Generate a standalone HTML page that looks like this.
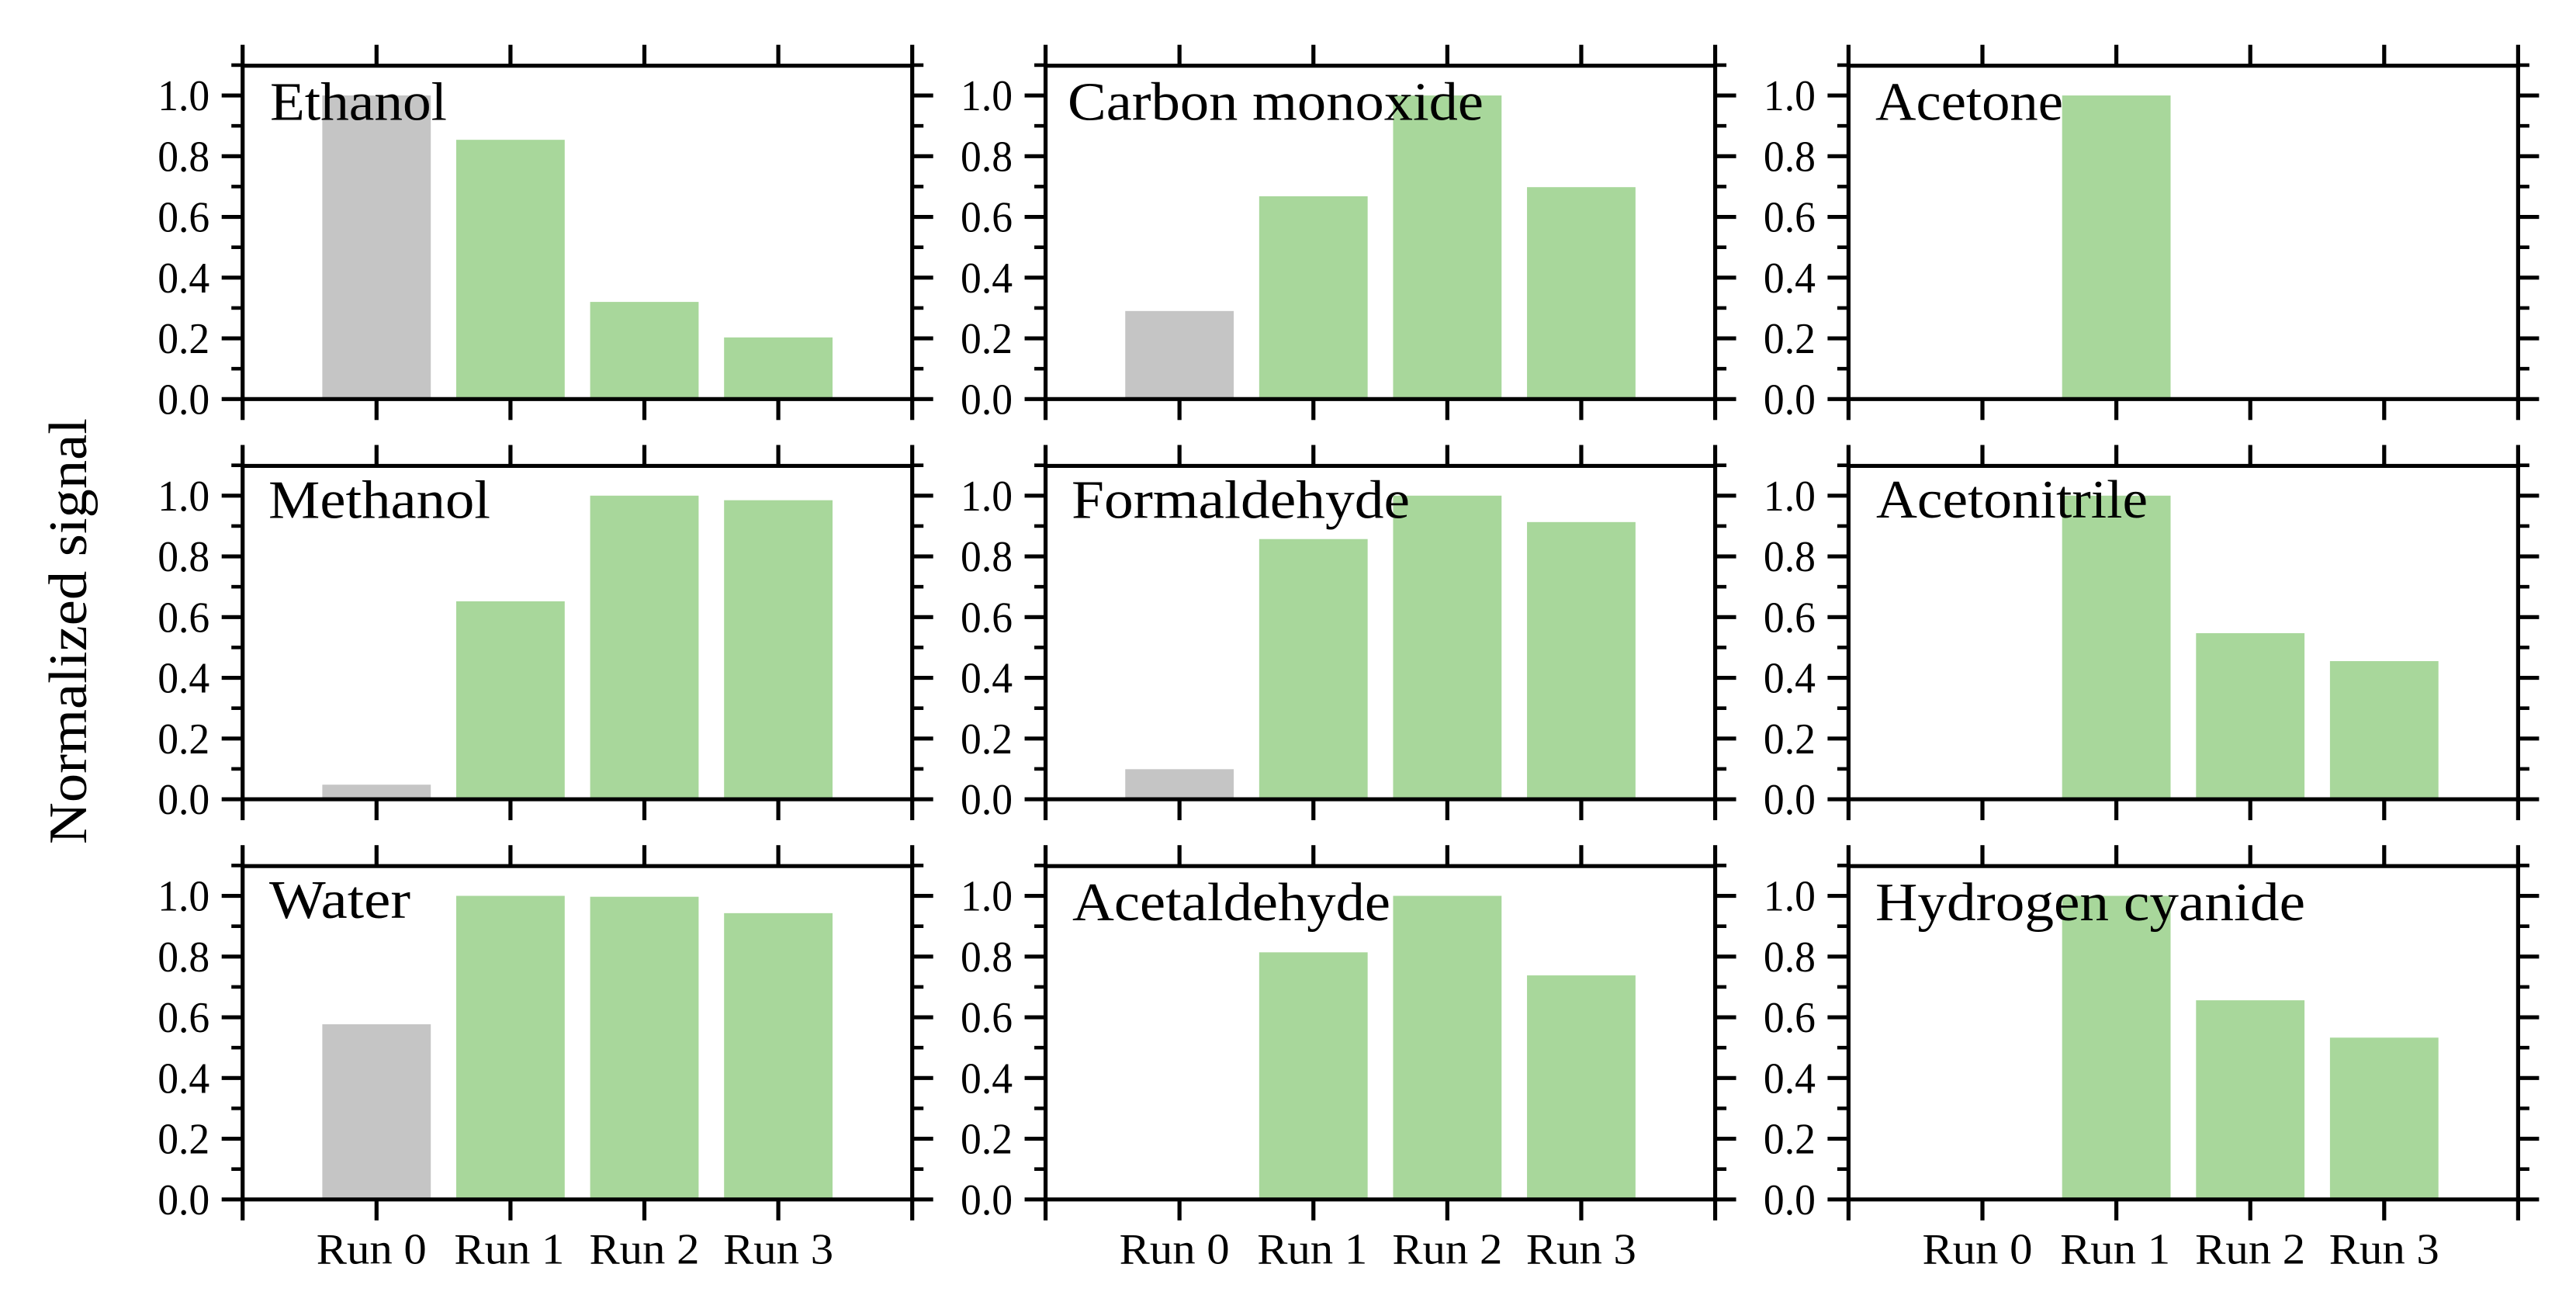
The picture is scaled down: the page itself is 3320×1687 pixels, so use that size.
<!DOCTYPE html>
<html lang="en">
<head>
<meta charset="utf-8">
<title>Normalized signal by run</title>
<style>
  html, body { margin: 0; padding: 0; background: #fff; }
  svg { display: block; }
  text { font-family: "Liberation Serif", serif; fill: #000; }
</style>
</head>
<body>
<svg id="chart" xmlns="http://www.w3.org/2000/svg" width="3320" height="1687" viewBox="0 0 3320 1687">
  <rect x="0" y="0" width="3320" height="1687" fill="#ffffff"/>
  <g id="panels"></g>
  <g id="titles" font-size="70">
    <text x="348" y="154.4" textLength="228" lengthAdjust="spacingAndGlyphs">Ethanol</text>
    <text x="1376" y="154.4" textLength="536" lengthAdjust="spacingAndGlyphs">Carbon monoxide</text>
    <text x="2417" y="154.4" textLength="242" lengthAdjust="spacingAndGlyphs">Acetone</text>
    <text x="346" y="667.7" textLength="286" lengthAdjust="spacingAndGlyphs">Methanol</text>
    <text x="1381" y="667.7" textLength="436" lengthAdjust="spacingAndGlyphs">Formaldehyde</text>
    <text x="2418" y="667" textLength="350" lengthAdjust="spacingAndGlyphs">Acetonitrile</text>
    <text x="347" y="1183" textLength="182" lengthAdjust="spacingAndGlyphs">Water</text>
    <text x="1382" y="1186" textLength="410" lengthAdjust="spacingAndGlyphs">Acetaldehyde</text>
    <text x="2417" y="1186" textLength="554" lengthAdjust="spacingAndGlyphs">Hydrogen cyanide</text>
  </g>
  <text font-size="70" transform="translate(111 1088) rotate(-90)" x="0" y="0" textLength="549" lengthAdjust="spacingAndGlyphs">Normalized signal</text>
</svg>
<script>
// ---- chart data ----
const categories = ['Run 0', 'Run 1', 'Run 2', 'Run 3'];
const yMajorLabels = ['0.0', '0.2', '0.4', '0.6', '0.8', '1.0'];
const yMinorValues = [0.1, 0.3, 0.5, 0.7, 0.9, 1.1];
const xTickValues = [-1, 0, 1, 2, 3, 4];

const ethanol = [1.0, 0.854, 0.32, 0.203];
const carbonMonoxide = [0.29, 0.668, 1.0, 0.698];
const acetone = [0, 1.0, 0, 0];
const methanol = [0.048, 0.652, 1.0, 0.985];
const formaldehyde = [0.099, 0.857, 1.0, 0.913];
const acetonitrile = [0, 1.0, 0.547, 0.455];
const water = [0.577, 1.0, 0.997, 0.943];
const acetaldehyde = [0, 0.814, 1.0, 0.738];
const hydrogenCyanide = [0, 1.0, 0.656, 0.533];

const panelSeries = [
  ['ethanol', ethanol], ['carbon-monoxide', carbonMonoxide], ['acetone', acetone],
  ['methanol', methanol], ['formaldehyde', formaldehyde], ['acetonitrile', acetonitrile],
  ['water', water], ['acetaldehyde', acetaldehyde], ['hydrogen-cyanide', hydrogenCyanide]
];

// ---- layout ----
const NS = 'http://www.w3.org/2000/svg';
const COLS = 3, ROWS = 3;
const LEFT0 = 312.7, COL_PITCH = 1034.85, PANEL_W = 863;
const TOP0 = 84.7, ROW_PITCH = 515.75, PANEL_H = 429.6;
const X_MIN = -1, X_MAX = 4, Y_MIN = 0, Y_MAX = 1.098;
const BAR_WIDTH = 0.81;
const GREY = '#c5c5c5', GREEN = '#a8d79b';
const STROKE = 5.2, MINOR_STROKE = 4.6, MAJOR = 27, MINOR = 14.5, XTICK = 27;

function makeAxisX(left) {
  return function (v) { return left + (v - X_MIN) / (X_MAX - X_MIN) * PANEL_W; };
}
function makeAxisY(top) {
  return function (v) { return top + PANEL_H - (v - Y_MIN) / (Y_MAX - Y_MIN) * PANEL_H; };
}
function addLine(parent, x1, y1, x2, y2, w) {
  const l = document.createElementNS(NS, 'line');
  l.setAttribute('x1', x1);
  l.setAttribute('y1', y1);
  l.setAttribute('x2', x2);
  l.setAttribute('y2', y2);
  l.setAttribute('stroke', '#000');
  l.setAttribute('stroke-width', w);
  parent.appendChild(l);
  return l;
}
// Only "Run 0" and "Run 1" sit slightly left of their tick in the reference.
function categoryNudge(i) {
  if (i === 0) return -6.5;
  if (i === 1) return -1.5;
  return 0;
}

const root = document.getElementById('panels');

panelSeries.forEach(function (entry, idx) {
  const name = entry[0], values = entry[1];
  const col = idx % COLS, row = Math.floor(idx / COLS);
  const left = LEFT0 + col * COL_PITCH, top = TOP0 + row * ROW_PITCH;
  const right = left + PANEL_W, bottom = top + PANEL_H;
  const xs = makeAxisX(left), ys = makeAxisY(top);

  const g = document.createElementNS(NS, 'g');
  
  
  root.appendChild(g);

  // bars
  values.forEach(function (v, i) {
    if (v <= 0) return;
    const r = document.createElementNS(NS, 'rect');
    const bw = xs(BAR_WIDTH) - xs(0);
    r.setAttribute('x', xs(i) - bw / 2);
    r.setAttribute('y', ys(v));
    r.setAttribute('width', bw);
    r.setAttribute('height', ys(0) - ys(v));
    r.setAttribute('fill', i === 0 ? GREY : GREEN);
    
    
    g.appendChild(r);
  });

  // spines
  const spine = document.createElementNS(NS, 'g');
  
  
  g.appendChild(spine);
  addLine(spine, left, top, right, top, STROKE);
  addLine(spine, left, bottom, right, bottom, STROKE);
  addLine(spine, left, top - STROKE / 2, left, bottom + STROKE / 2, STROKE);
  addLine(spine, right, top - STROKE / 2, right, bottom + STROKE / 2, STROKE);

  // x ticks, top and bottom
  const xt = document.createElementNS(NS, 'g');
  
  
  g.appendChild(xt);
  xTickValues.forEach(function (v) {
    addLine(xt, xs(v), top - XTICK, xs(v), top, STROKE);
    addLine(xt, xs(v), bottom, xs(v), bottom + XTICK, STROKE);
  });

  // y ticks, both sides, outward
  const yt = document.createElementNS(NS, 'g');
  
  
  g.appendChild(yt);
  yMajorLabels.forEach(function (lab) {
    const y = ys(parseFloat(lab));
    addLine(yt, left - MAJOR, y, left, y, STROKE);
    addLine(yt, right, y, right + MAJOR, y, STROKE);
    const t = document.createElementNS(NS, 'text');
    t.textContent = lab;
    t.setAttribute('x', left - 42.5);
    t.setAttribute('y', y + 19);
    t.setAttribute('text-anchor', 'end');
    t.setAttribute('font-size', '56');
    t.setAttribute('textLength', '67');
    t.setAttribute('lengthAdjust', 'spacingAndGlyphs');
    
    
    g.appendChild(t);
  });
  yMinorValues.forEach(function (v) {
    const y = ys(v);
    addLine(yt, left - MINOR, y, left, y, MINOR_STROKE);
    addLine(yt, right, y, right + MINOR, y, MINOR_STROKE);
  });

  // category labels on the bottom row
  if (row === ROWS - 1) {
    categories.forEach(function (c, i) {
      const t = document.createElementNS(NS, 'text');
      t.textContent = c;
      t.setAttribute('x', xs(i) + categoryNudge(i));
      t.setAttribute('y', 1628.4);
      t.setAttribute('text-anchor', 'middle');
      t.setAttribute('font-size', '56');
      t.setAttribute('textLength', '142');
      t.setAttribute('lengthAdjust', 'spacingAndGlyphs');
      
      
      g.appendChild(t);
    });
  }
});
</script>
</body>
</html>
